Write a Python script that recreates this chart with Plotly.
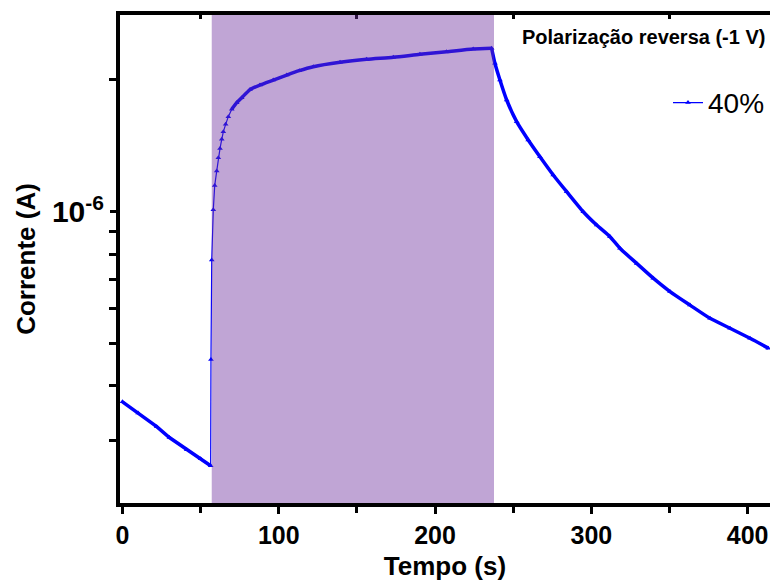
import plotly.graph_objects as go

# ---- data ----
dark_t = [0, 10, 21.9, 30, 41.1, 50, 56.4]
dark_i = [3.68e-7, 3.47e-7, 3.23e-7, 3.05e-7, 2.86e-7, 2.73e-7, 2.63e-7]

rise_t = [56.6, 57.1, 58.1, 59.0, 60.3, 61.3, 62.4, 63.5, 64.5, 66.0, 67.7, 69.9]
rise_i = [4.6e-7, 7.76e-7, 1.01e-6, 1.147e-6, 1.239e-6, 1.328e-6, 1.395e-6,
          1.463e-6, 1.522e-6, 1.583e-6, 1.648e-6, 1.713e-6]

light_t = [73.1, 76.3, 81.6, 88.0, 96.5, 105.1, 113.1, 122.1, 139.2, 156.2,
           173.3, 190.3, 207.4, 224.4, 236.2]
light_i = [1.774e-6, 1.821e-6, 1.90e-6, 1.947e-6, 1.998e-6, 2.051e-6, 2.099e-6,
           2.143e-6, 2.193e-6, 2.228e-6, 2.252e-6, 2.287e-6, 2.319e-6, 2.352e-6,
           2.361e-6]

decay_t = [238.3, 241.5, 245.8, 252.2, 259.6, 267.1, 275.6, 284.2, 294.8, 303.4,
           311.9, 318.3, 329.0, 339.6, 350.3, 363.1, 375.9, 388.7, 401.5, 413.2]
decay_i = [2.182e-6, 1.998e-6, 1.799e-6, 1.605e-6, 1.458e-6, 1.335e-6, 1.213e-6,
           1.111e-6, 1.000e-6, 9.32e-7, 8.77e-7, 8.25e-7, 7.62e-7, 7.05e-7,
           6.57e-7, 6.12e-7, 5.71e-7, 5.42e-7, 5.14e-7, 4.88e-7]

light_on = 57.1
light_off = 237.7

x_ticks = [0, 100, 200, 300, 400]
x_minor = [50, 150, 250, 350]
y_major = [1e-6]
y_major_text = ["10<sup>-6</sup>"]
y_minor = [3e-7, 4e-7, 5e-7, 6e-7, 7e-7, 8e-7, 9e-7, 2e-6]

series_name = "40%"
title_text = "Polarização reversa (-1 V)"

FONT = "Liberation Sans, Arial, sans-serif"
BLUE = "#0000ff"

all_t = dark_t + rise_t + light_t + decay_t
all_i = dark_i + rise_i + light_i + decay_i

fig = go.Figure()
# dense-sampling look (thick parts of the trace)
fig.add_trace(go.Scatter(x=dark_t, y=dark_i, mode="lines", showlegend=False,
                         line=dict(color=BLUE, width=3.5), hoverinfo="skip"))
fig.add_trace(go.Scatter(x=rise_t[-1:] + light_t, y=rise_i[-1:] + light_i, mode="lines",
                         showlegend=False, hoverinfo="skip",
                         line=dict(color=BLUE, width=3.5, shape="spline", smoothing=0.6)))
fig.add_trace(go.Scatter(x=light_t[-1:] + decay_t, y=light_i[-1:] + decay_i, mode="lines",
                         showlegend=False, hoverinfo="skip",
                         line=dict(color=BLUE, width=3.5, shape="spline", smoothing=0.6)))
# the series itself
fig.add_trace(go.Scatter(
    x=all_t, y=all_i, mode="lines+markers", name=series_name,
    line=dict(color=BLUE, width=1.2),
    marker=dict(symbol="triangle-up", size=5, color=BLUE),
))
# invisible carriers for the tick-only axes
fig.add_trace(go.Scatter(x=[x_ticks[0], x_ticks[-1]], y=[y_major[0], y_major[0]],
                         xaxis="x2", yaxis="y", mode="markers", showlegend=False,
                         marker=dict(opacity=0), hoverinfo="skip"))
fig.add_trace(go.Scatter(x=[x_ticks[0], x_ticks[-1]], y=[y_major[0], y_major[0]],
                         xaxis="x3", yaxis="y2", mode="markers", showlegend=False,
                         marker=dict(opacity=0), hoverinfo="skip"))

fig.add_shape(type="rect", xref="x", yref="paper", x0=light_on, x1=light_off,
              y0=0, y1=1, line=dict(width=0),
              fillcolor="rgba(108,46,157,0.43)", layer="above")

fig.add_annotation(text=title_text, xref="paper", yref="paper",
                   x=0.995, y=0.955, xanchor="right", yanchor="middle",
                   showarrow=False,
                   font=dict(family=FONT, size=20, color="black", weight="bold"))

xr = [-1.6, 414.3]
yr = [-6.6651, -5.5509]
fig.update_layout(
    width=770, height=586,
    margin=dict(l=120, r=0, t=15, b=83),
    paper_bgcolor="white", plot_bgcolor="white",
    font=dict(family=FONT, color="black"),
    showlegend=True,
    legend=dict(x=1.0, y=0.82, xanchor="right", yanchor="middle",
                bgcolor="rgba(0,0,0,0)", font=dict(family=FONT, size=28, color="black")),
    xaxis=dict(range=xr, showgrid=False, zeroline=False, showline=True,
               linecolor="black", linewidth=4, ticks="outside", ticklen=7, tickwidth=3,
               tickcolor="black", tickmode="array", tickvals=x_ticks,
               tickfont=dict(family=FONT, size=25, color="black", weight="bold"),
               title=dict(text="Tempo (s)", standoff=10,
                          font=dict(family=FONT, size=26, color="black", weight="bold"))),
    xaxis2=dict(range=xr, overlaying="x", side="top", anchor="y", showgrid=False,
                zeroline=False, showline=True, linecolor="black", linewidth=4,
                ticks="inside", ticklen=4, tickwidth=3, tickcolor="black",
                tickmode="array", tickvals=x_minor, showticklabels=False),
    xaxis3=dict(range=xr, overlaying="x", side="bottom", anchor="y", showgrid=False,
                zeroline=False, showline=False, ticks="outside", ticklen=9, tickwidth=3,
                tickcolor="black", tickmode="array", tickvals=x_minor,
                showticklabels=False),
    yaxis=dict(type="log", range=yr, showgrid=False, zeroline=False,
               showline=True, linecolor="black", linewidth=4, ticks="outside",
               ticklen=6, tickwidth=3, tickcolor="black",
               tickmode="array", tickvals=y_major, ticktext=y_major_text,
               tickfont=dict(family=FONT, size=30, color="black", weight="bold"),
               title=dict(text="Corrente (A)", standoff=10,
                          font=dict(family=FONT, size=26, color="black", weight="bold"))),
    yaxis2=dict(type="log", range=yr, overlaying="y", side="left", anchor="x",
                showgrid=False, zeroline=False, showline=False, ticks="outside",
                ticklen=10, tickwidth=3, tickcolor="black", tickmode="array",
                tickvals=y_minor, showticklabels=False),
)

fig.write_html("out.html")
